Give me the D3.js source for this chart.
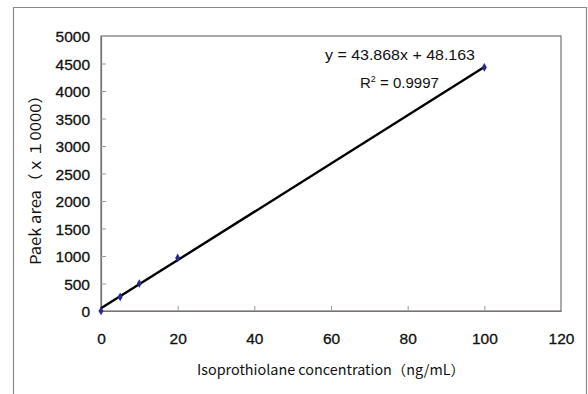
<!DOCTYPE html>
<html>
<head>
<meta charset="utf-8">
<script src="https://cdn.jsdelivr.net/npm/d3@7"></script>
<style>
  body { margin: 0; background: #fff; }
  svg { display: block; }
  text { font-family: "Liberation Sans", Arial, sans-serif; fill: #111; }
</style>
</head>
<body>
<script>
// calibration data
var concentration = [0, 5, 10, 20, 100];         // ng/mL
var peakArea = [0, 255, 500, 965, 4430];          // x 10000
var xTicks = [0, 20, 40, 60, 80, 100, 120];
var yTicks = [0, 500, 1000, 1500, 2000, 2500, 3000, 3500, 4000, 4500, 5000];
var slope = 43.868;
var intercept = 48.163;
var fitRange = [0, 100];
var eqLabel = "y = 43.868x + 48.163";
var r2Value = "0.9997";

var w = 588, h = 394;
// plot box edges (named so they don't clash with window.top)
var pLeft = 101, pRight = 561, pTop = 36, pBottom = 311;

var svg = d3.select("body").append("svg")
  .attr("width", w)
  .attr("height", h);

// outer chart frame (bottom runs off the picture)
svg.append("path")
  .attr("d", "M13.5," + h + " V7.5 H586.5 V" + h)
  .attr("fill", "none")
  .attr("stroke", "#8a8a8a")
  .attr("stroke-width", 1.2);

var x = d3.scaleLinear().domain([0, 120]).range([pLeft, pRight]);
var y = d3.scaleLinear().domain([0, 5000]).range([pBottom, pTop]);

// plot area box
svg.append("rect")
  .attr("x", pLeft).attr("y", pTop)
  .attr("width", pRight - pLeft).attr("height", pBottom - pTop)
  .attr("fill", "none")
  .attr("stroke", "#7a7070")
  .attr("stroke-width", 1.2);

// axes, ticks point inward
var fmt = d3.format("d");
var xAxis = svg.append("g")
  .attr("transform", "translate(0," + pBottom + ")")
  .call(d3.axisBottom(x).tickValues(xTicks).tickFormat(fmt).tickSizeInner(-5).tickSizeOuter(0).tickPadding(22));
var yAxis = svg.append("g")
  .attr("transform", "translate(" + pLeft + ",0)")
  .call(d3.axisLeft(y).tickValues(yTicks).tickFormat(fmt).tickSizeInner(-5).tickSizeOuter(0).tickPadding(11));

[xAxis, yAxis].forEach(function(g) {
  g.select(".domain").attr("stroke", "#7a7070").attr("stroke-width", 1.2);
  g.selectAll(".tick line").attr("stroke", "#999");
  g.selectAll(".tick text")
    .style("font-family", "'Liberation Sans', Arial, sans-serif")
    .style("font-size", "15.5px")
    .attr("fill", "#111")
    .attr("stroke", "#111")
    .attr("stroke-width", 0.3);
});
yAxis.selectAll(".tick text").attr("dy", "0.36em");
xAxis.selectAll(".tick line").filter(function(d) { return d === 0 || d === 120; }).remove();
yAxis.selectAll(".tick line").filter(function(d) { return d === 0 || d === 5000; }).remove();

// fitted line
var line = d3.line()
  .x(function(d) { return x(d); })
  .y(function(d) { return y(slope * d + intercept); });
svg.append("path")
  .datum(fitRange)
  .attr("d", line)
  .attr("fill", "none")
  .attr("stroke", "#000")
  .attr("stroke-width", 2.4);

// data points (diamonds)
svg.selectAll("path.pt")
  .data(concentration)
  .enter()
  .append("path")
  .attr("class", "pt")
  .attr("d", d3.symbol().type(d3.symbolDiamond).size(22))
  .attr("transform", function(d, i) {
    return "translate(" + x(d) + "," + y(peakArea[i]) + ")";
  })
  .attr("fill", "#2a2a8c");

// equation labels
svg.append("text")
  .attr("x", 400).attr("y", 60)
  .attr("text-anchor", "middle")
  .attr("textLength", 150)
  .attr("lengthAdjust", "spacingAndGlyphs")
  .style("font-size", "15px")
  .text(eqLabel);

var r2 = svg.append("text")
  .attr("x", 360).attr("y", 88)
  .style("font-size", "15px");
r2.append("tspan").text("R");
r2.append("tspan").attr("dy", -6).style("font-size", "9px").text("2");
r2.append("tspan").attr("dy", 6).text(" = " + r2Value);

// axis titles
svg.append("text")
  .attr("x", 331).attr("y", 375)
  .attr("text-anchor", "middle")
  .attr("textLength", 268)
  .attr("lengthAdjust", "spacingAndGlyphs")
  .style("font-family", "'Noto Sans CJK JP', sans-serif")
  .style("font-size", "14px")
  .text("Isoprothiolane concentration（ng/mL）");

svg.append("text")
  .attr("transform", "translate(41,176) rotate(-90)")
  .attr("text-anchor", "middle")
  .attr("textLength", 178)
  .attr("lengthAdjust", "spacingAndGlyphs")
  .style("font-family", "'Noto Sans CJK JP', sans-serif")
  .style("font-size", "15px")
  .text("Paek area（ｘ１0000）");
</script>
</body>
</html>
